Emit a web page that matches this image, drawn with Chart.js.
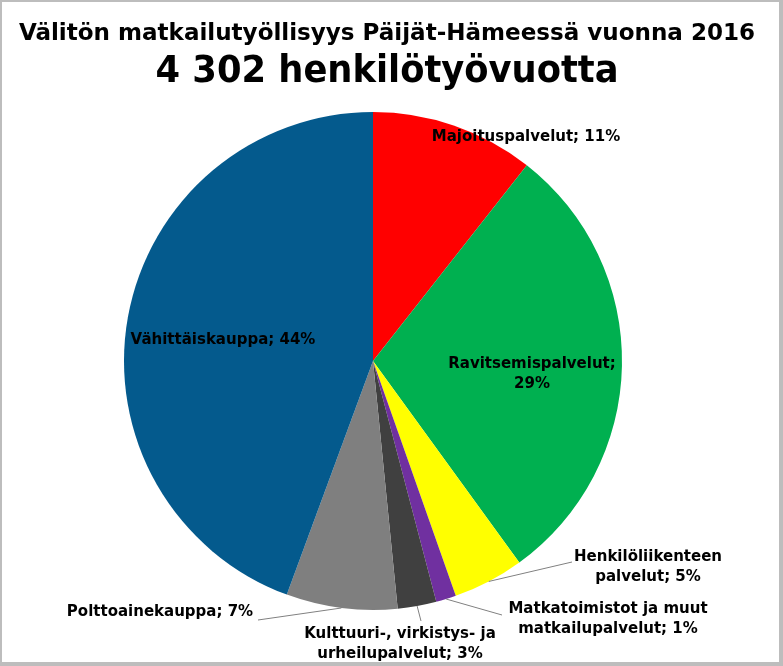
<!DOCTYPE html>
<html><head><meta charset="utf-8">
<script src="https://cdn.jsdelivr.net/npm/chart.js@4"></script>
<style>html,body{margin:0;padding:0;background:#fff}#wrap{width:783px;height:666px;position:relative}</style>
</head><body><div id="wrap"><canvas id="c"></canvas></div>
<script>
const titleLine1 = "Välitön matkailutyöllisyys Päijät-Hämeessä vuonna 2016";
const titleLine2 = "4 302 henkilötyövuotta";
const categories = ["Majoituspalvelut", "Ravitsemispalvelut", "Henkilöliikenteen palvelut", "Matkatoimistot ja muut matkailupalvelut", "Kulttuuri-, virkistys- ja urheilupalvelut", "Polttoainekauppa", "Vähittäiskauppa"];
const values = [456, 1265, 198, 56, 108, 310, 1909];
const colors = ["#FF0000", "#00B050", "#FFFF00", "#7030A0", "#404040", "#7F7F7F", "#045A8D"];

// label layout (style only): centre of text block, words on first line, optional leader end point
const labelLayout = [
  {x: 526, y: 137, split: 0},
  {x: 532, y: 374, split: 1},
  {x: 648, y: 567, split: 1, lx: 572, ly: 562},
  {x: 608, y: 619, split: 3, lx: 502, ly: 615},
  {x: 400, y: 644, split: 3, lx: 421, ly: 621},
  {x: 160, y: 612, split: 0, lx: 258, ly: 620},
  {x: 223, y: 340, split: 0}
];

const total = values.reduce((a, b) => a + b, 0);

function drawScaledText(ctx, text, cx, baseline, font, targetW) {
  ctx.save();
  ctx.font = font;
  try { ctx.fontStretch = 'condensed'; } catch (e) {}
  const w = ctx.measureText(text).width;
  const s = targetW / w;
  ctx.translate(cx, baseline);
  ctx.scale(s, 1);
  ctx.textAlign = 'center';
  ctx.textBaseline = 'alphabetic';
  ctx.fillStyle = '#000';
  ctx.fillText(text, 0, 0);
  ctx.restore();
}

const decor = {
  id: 'decor',
  afterDraw(chart) {
    const ctx = chart.ctx;
    // titles
    drawScaledText(ctx, titleLine1, 387, 40, 'bold 23px "DejaVu Sans Condensed", "DejaVu Sans", sans-serif', 736);
    drawScaledText(ctx, titleLine2, 387, 82, 'bold 37px "DejaVu Sans Condensed", "DejaVu Sans", sans-serif', 463);

    // labels
    const meta = chart.getDatasetMeta(0);
    ctx.save();
    ctx.font = 'bold 15px "DejaVu Sans", Verdana, sans-serif';
    ctx.fillStyle = '#000';
    ctx.textAlign = 'center';
    ctx.textBaseline = 'middle';
    meta.data.forEach((arc, i) => {
      const L = labelLayout[i];
      const pct = Math.round(values[i] / total * 100);
      const text = categories[i] + '; ' + pct + '%';
      const words = text.split(' ');
      const lines = L.split ? [words.slice(0, L.split).join(' '), words.slice(L.split).join(' ')] : [text];
      const lh = 20;
      const y0 = L.y - (lines.length - 1) * lh / 2;
      if (L.lx !== undefined) {
        const p = arc.getProps(['x', 'y', 'startAngle', 'endAngle', 'outerRadius'], true);
        const mid = (p.startAngle + p.endAngle) / 2;
        const sx = p.x + Math.cos(mid) * p.outerRadius;
        const sy = p.y + Math.sin(mid) * p.outerRadius;
        ctx.save();
        ctx.strokeStyle = '#808080';
        ctx.lineWidth = 1;
        ctx.beginPath();
        ctx.moveTo(sx, sy);
        ctx.lineTo(L.lx, L.ly);
        ctx.stroke();
        ctx.restore();
      }
      lines.forEach((ln, k) => ctx.fillText(ln, L.x, y0 + k * lh));
    });
    ctx.restore();

    // frame
    ctx.save();
    ctx.fillStyle = '#BDBDBD';
    ctx.fillRect(0, 0, 783, 2);
    ctx.fillRect(0, 0, 2, 666);
    ctx.fillRect(779, 0, 4, 666);
    ctx.fillRect(0, 662, 783, 4);
    ctx.restore();
  }
};

new Chart(document.getElementById('c'), {
  type: 'pie',
  data: {
    labels: categories,
    datasets: [{data: values, backgroundColor: colors, borderWidth: 0}]
  },
  options: {
    responsive: true,
    maintainAspectRatio: false,
    animation: false,
    events: [],
    layout: {padding: {top: 112, bottom: 56, left: 124, right: 161}},
    plugins: {legend: {display: false}, tooltip: {enabled: false}, title: {display: false}}
  },
  plugins: [decor]
});
</script></body></html>
